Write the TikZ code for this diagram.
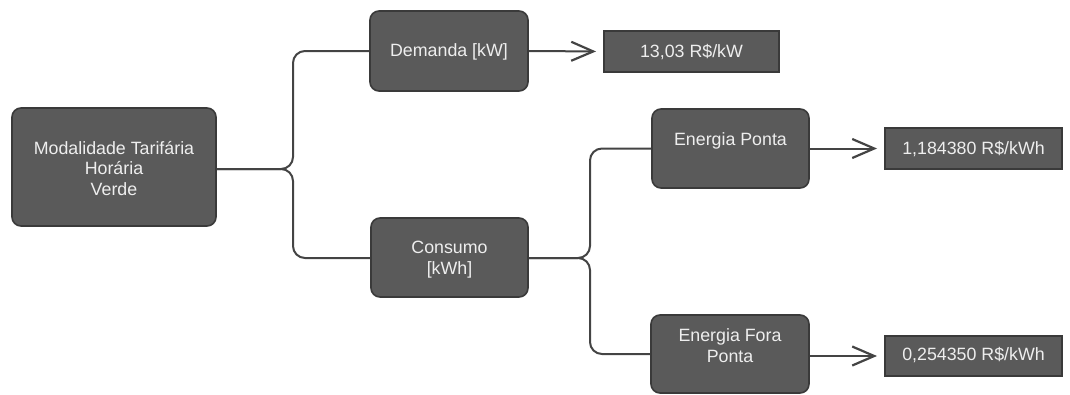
\documentclass[tikz,border=0pt]{standalone}
\usepackage{fontspec}
\setmainfont{Liberation Sans}
\usetikzlibrary{arrows.meta}
\definecolor{boxfill}{HTML}{5A5A5A}
\definecolor{boxedge}{HTML}{3A3A3A}
\definecolor{linecol}{HTML}{444444}
\definecolor{txt}{HTML}{EEEEEE}
\begin{document}
\begin{tikzpicture}[x=1pt,y=-1pt,
  catbox/.style={draw=boxedge,fill=boxfill,line width=1.6pt,rounded corners=9pt,inner sep=0pt},
  valbox/.style={draw=boxedge,fill=boxfill,line width=2pt,inner sep=0pt},
  lbl/.style={text=txt,font=\fontsize{17.8}{20.8}\selectfont,align=center,inner sep=0pt},
  conn/.style={draw=linecol,line width=2pt,rounded corners=12pt},
  arr/.style={draw=linecol,line width=2pt,-{Straight Barb[length=22pt,width=19pt,line width=2.2pt]},shorten >=7pt}]
\useasboundingbox (0,0) rectangle (1070,394);
% category boxes
\node[catbox,minimum width=204pt,minimum height=118pt] (M) at (114,167) {};
\node[lbl] (Mt) at (114,168.5) {Modalidade Tarifária\\Horária\\Verde};
\node[catbox,minimum width=158pt,minimum height=80pt] (D) at (449,51) {};
\node[lbl] (Dt) at (449,52) {Demanda [kW]};
\node[catbox,minimum width=157pt,minimum height=79pt] (C) at (449.5,257.5) {};
\node[lbl] (Ct) at (449.5,260) {Consumo\\{[kWh]}};
\node[catbox,minimum width=157pt,minimum height=79pt] (EP) at (730.5,148.5) {};
\node[lbl] (EPt) at (730.5,141) {Energia Ponta};
\node[catbox,minimum width=158pt,minimum height=78pt] (EF) at (730,354) {};
\node[lbl] (EFt) at (730,345.5) {Energia Fora\\Ponta};
% value boxes
\node[valbox,minimum width=175pt,minimum height=41pt] (V1) at (691.5,51.5) {};
\node[lbl] (V1t) at (691.5,52) {13,03 R\$/kW};
\node[valbox,minimum width=177pt,minimum height=41pt] (V2) at (973.5,148.5) {};
\node[lbl] (V2t) at (973.5,149) {1,184380 R\$/kWh};
\node[valbox,minimum width=177pt,minimum height=40pt] (V3) at (973.5,356) {};
\node[lbl] (V3t) at (973.5,355.5) {0,254350 R\$/kWh};
% junction coordinates
\coordinate (j1) at (293,169);
\coordinate (j2) at (590,258);
% connectors
\draw[conn] (M.east |- j1) -- (j1) |- (D.west);
\draw[conn] (M.east |- j1) -- (j1) |- (C.west |- j2);
\draw[conn] (C.east |- j2) -- (j2) |- (EP.west);
\draw[conn] (C.east |- j2) -- (j2) |- (EF.west);
% arrows
\draw[arr] (D.east) -- (V1.west);
\draw[arr] (EP.east) -- (V2.west);
\draw[arr] (EF.east |- V3.west) -- (V3.west);
\end{tikzpicture}
\end{document}
